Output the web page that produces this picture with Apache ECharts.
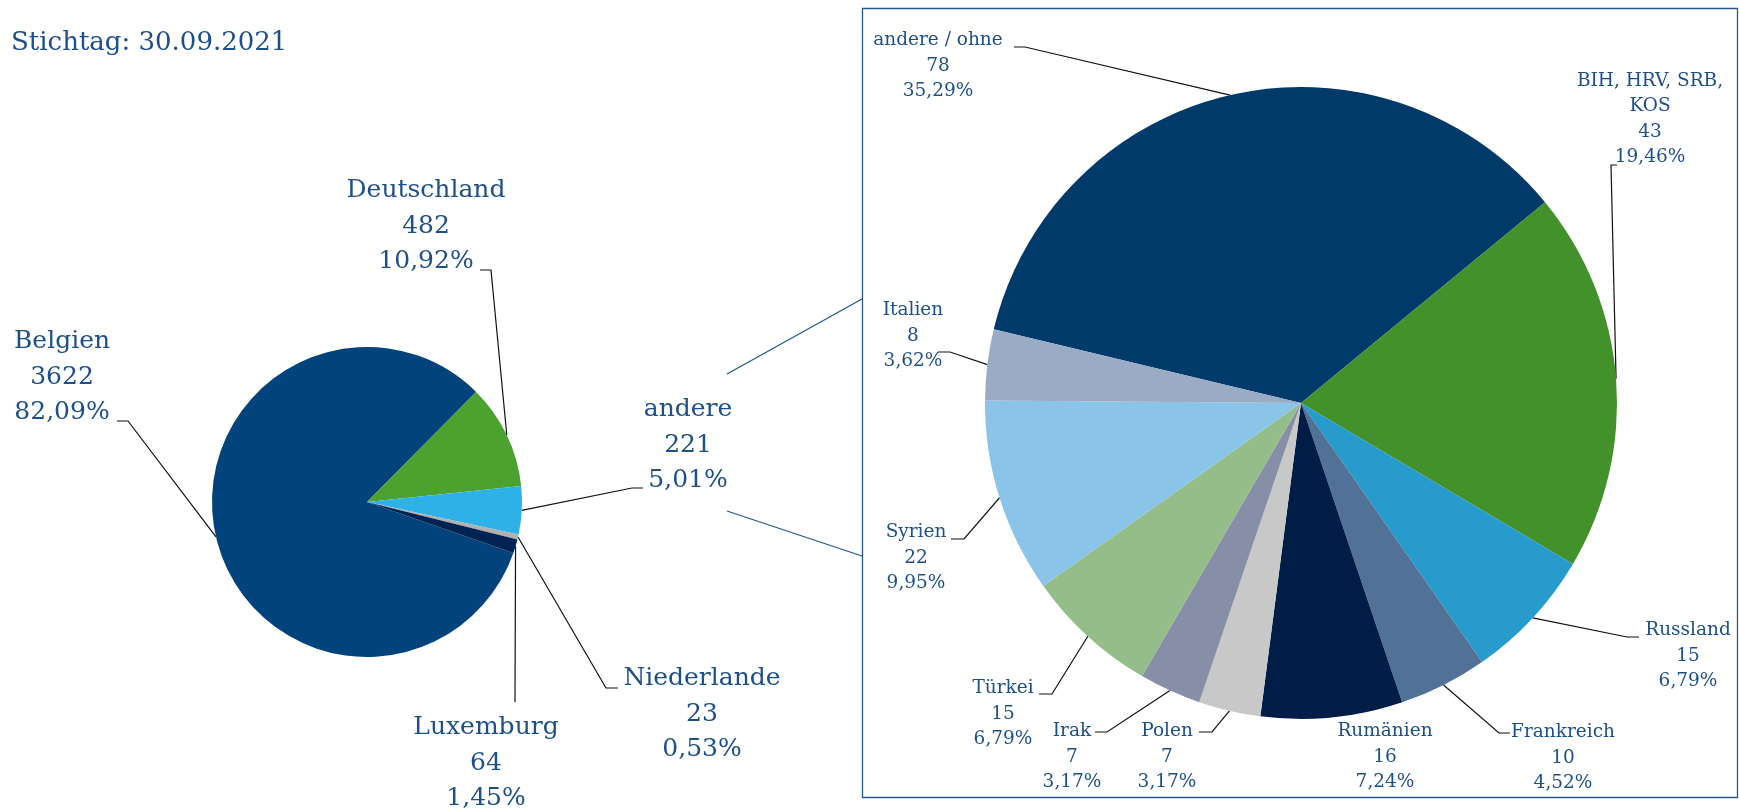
<!DOCTYPE html>
<html>
<head>
<meta charset="utf-8">
<script src="https://cdn.jsdelivr.net/npm/echarts@6/dist/echarts.min.js"></script>
<style>
html,body{margin:0;padding:0;background:#fff;}
#chart{width:1739px;height:812px;}
</style>
</head>
<body>
<div id="chart"></div>
<script>
// Daten
var stichtag = "Stichtag: 30.09.2021";

var linksNamen = ["Belgien", "Deutschland", "andere", "Niederlande", "Luxemburg"];
var linksWerte = [3622, 482, 221, 23, 64];
var linksProzent = ["82,09%", "10,92%", "5,01%", "0,53%", "1,45%"];
var linksFarben = ["#02437b", "#4ca22f", "#2eb1e6", "#b0b0b0", "#002352"];

var rechtsNamen = ["andere / ohne", "BIH, HRV, SRB,\nKOS", "Russland", "Frankreich", "Rumänien",
    "Polen", "Irak", "Türkei", "Syrien", "Italien"];
var rechtsWerte = [78, 43, 15, 10, 16, 7, 7, 15, 22, 8];
var rechtsProzent = ["35,29%", "19,46%", "6,79%", "4,52%", "7,24%", "3,17%", "3,17%", "6,79%", "9,95%", "3,62%"];
var rechtsFarben = ["#003a6b", "#42912a", "#279bcc", "#527197", "#001d48",
    "#c8c8c8", "#868fa7", "#94bd89", "#8ac4e9", "#9aabc5"];

// Beschriftungspositionen: [labelX, labelY, knickX, knickY, endeX, endeY]
var linksLayout = [
    [62, 377, 128, 421, 117, 421],
    [426, 226, 491, 270, 480, 270],
    [688, 445, 632, 488, 643, 488],
    [702, 714, 606, 688, 618, 688],
    [486, 763, 515, 702, 515, 702]
];
var rechtsLayout = [
    [938, 66, 1025, 47, 1014, 47],
    [1650, 119, 1611, 165, 1617, 165],
    [1688, 656, 1627, 637, 1639, 637],
    [1563, 758, 1499, 733, 1510, 733],
    [1385, 757, null, null, null, null],
    [1167, 757, 1212, 732, 1199, 732],
    [1072, 757, 1107, 732, 1095, 732],
    [1003, 714, 1052, 694, 1039, 694],
    [916, 558, 964, 539, 951, 539],
    [913, 336, 950, 352, 938, 352]
];

var textFarbe = "#1d4f8a";
var schrift = "'DejaVu Serif', serif";

function baueDaten(namen, werte, farben, prozent, layout) {
    return namen.map(function (n, i) {
        var item = {
            name: n,
            value: werte[i],
            pct: prozent[i],
            itemStyle: {color: farben[i]}
        };
        if (layout[i][2] == null) {
            item.labelLine = {show: false};
        }
        return item;
    });
}

function baueLayout(layout) {
    return function (params) {
        var l = layout[params.dataIndex];
        var res = {x: l[0], y: l[1], align: "center", verticalAlign: "middle"};
        if (l[2] != null && params.labelLinePoints) {
            res.labelLinePoints = [params.labelLinePoints[0], [l[2], l[3]], [l[4], l[5]]];
        }
        return res;
    };
}

var chart = echarts.init(document.getElementById("chart"));
var option = {
    animation: false,
    backgroundColor: "#fff",
    graphic: [
        {
            type: "text",
            left: 11,
            top: 30,
            style: {text: stichtag, fill: textFarbe, font: "26px " + schrift}
        },
        {
            type: "rect",
            shape: {x: 862.5, y: 8.5, width: 875, height: 789},
            style: {fill: "none", stroke: "#24588f", lineWidth: 1.3}
        },
        {
            type: "line",
            shape: {x1: 727, y1: 374, x2: 862, y2: 299},
            style: {stroke: "#24588f", lineWidth: 1.3}
        },
        {
            type: "line",
            shape: {x1: 727, y1: 511, x2: 862, y2: 556},
            style: {stroke: "#24588f", lineWidth: 1.3}
        }
    ],
    series: [
        {
            type: "pie",
            name: "links",
            center: [367, 502],
            radius: 155,
            startAngle: 340.8,
            avoidLabelOverlap: false,
            silent: true,
            label: {
                show: true,
                position: "outside",
                color: textFarbe,
                fontFamily: schrift,
                fontSize: 25,
                lineHeight: 35.5,
                formatter: function (p) {
                    return p.name + "\n" + p.value + "\n" + p.data.pct;
                }
            },
            labelLine: {
                show: true,
                length: 20,
                length2: 10,
                lineStyle: {color: "#111", width: 1.2}
            },
            labelLayout: baueLayout(linksLayout),
            data: baueDaten(linksNamen, linksWerte, linksFarben, linksProzent, linksLayout)
        },
        {
            type: "pie",
            name: "rechts",
            center: [1301, 403],
            radius: 316,
            startAngle: 166.5,
            avoidLabelOverlap: false,
            silent: true,
            label: {
                show: true,
                position: "outside",
                color: textFarbe,
                fontFamily: schrift,
                fontSize: 18.5,
                lineHeight: 25.4,
                formatter: function (p) {
                    return p.name + "\n" + p.value + "\n" + p.data.pct;
                }
            },
            labelLine: {
                show: true,
                length: 20,
                length2: 10,
                lineStyle: {color: "#111", width: 1.2}
            },
            labelLayout: baueLayout(rechtsLayout),
            data: baueDaten(rechtsNamen, rechtsWerte, rechtsFarben, rechtsProzent, rechtsLayout)
        }
    ]
};
chart.setOption(option);
</script>
</body>
</html>
